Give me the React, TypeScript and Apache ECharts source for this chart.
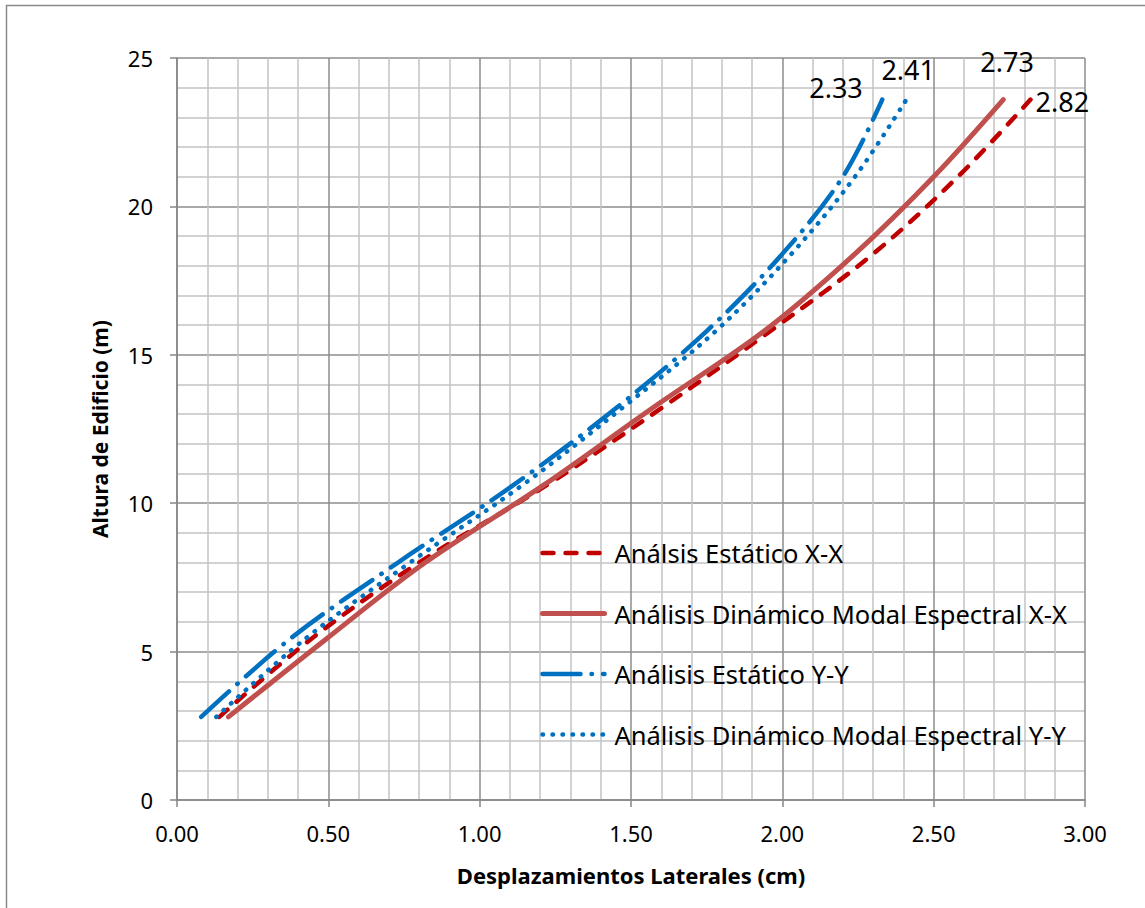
import React, { useEffect, useRef } from "react";
import * as echarts from "echarts";

const alturas = [2.8, 5.4, 8.0, 10.6, 13.2, 15.8, 18.4, 21.0, 23.6];
const estaticoXX = [0.14, 0.44, 0.8, 1.22, 1.6, 1.96, 2.3, 2.58, 2.82];
const dinamicoXX = [0.17, 0.49, 0.82, 1.21, 1.57, 1.94, 2.24, 2.5, 2.73];
const estaticoYY = [0.08, 0.37, 0.73, 1.11, 1.45, 1.75, 2.0, 2.2, 2.33];
const dinamicoYY = [0.13, 0.42, 0.77, 1.14, 1.47, 1.78, 2.03, 2.24, 2.41];

const nombres = [
  "Análsis Estático X-X",
  "Análisis Dinámico Modal Espectral X-X",
  "Análisis Estático Y-Y",
  "Análisis Dinámico Modal Espectral Y-Y",
];

const FONT = "'Noto Sans', 'Open Sans', sans-serif";

const pares = (xs: number[]) => xs.map((x, i) => [x, alturas[i]]);

const endLabel = (offset: number[]) => ({
  show: true,
  formatter: (p: any) => Number(p.value[0]).toFixed(2),
  color: "#000",
  fontSize: 27,
  fontFamily: FONT,
  distance: 5,
  offset,
});

const estilos = [
  { color: "#C00000", width: 4.5, type: [11, 12], cap: "round" },
  { color: "#C0504D", width: 5, type: "solid", cap: "round" },
  { color: "#0070C0", width: 4.5, type: [38, 11, 0.5, 11], cap: "round" },
  { color: "#0070C0", width: 4.5, type: [0.5, 9.5], cap: "round" },
];

export default function App() {
  const ref = useRef<HTMLDivElement>(null);
  useEffect(() => {
    const chart = echarts.init(ref.current!, null, { renderer: "svg" });
    const common = {
      type: "line",
      smooth: 0.35,
      symbol: "none",
      showSymbol: false,
    };
    const labelOffsets = [[0, 2], [-28, -38], [-78, -12], [-30, -30]];
    const valores = [estaticoXX, dinamicoXX, estaticoYY, dinamicoYY];
    chart.setOption({
      animation: false,
      backgroundColor: "#fff",
      textStyle: { fontFamily: FONT },
      graphic: [
        {
          type: "rect",
          shape: { x: 6.5, y: 5.5, width: 1300, height: 1000 },
          style: { fill: "none", stroke: "#8a8a8a", lineWidth: 1.5 },
          silent: true,
        },
      ],
      grid: { left: 177, right: 60, top: 58, bottom: 108 },
      xAxis: {
        type: "value",
        min: 0,
        max: 3,
        interval: 0.5,
        name: "Desplazamientos Laterales (cm)",
        nameLocation: "middle",
        nameGap: 64,
        nameTextStyle: { fontSize: 22, fontWeight: "bold", color: "#000", fontFamily: FONT },
        axisLine: { show: true, lineStyle: { color: "#868686", width: 1.5 } },
        axisTick: { show: true, length: 7, lineStyle: { color: "#868686", width: 1.5 } },
        axisLabel: {
          formatter: (v: number) => v.toFixed(2),
          fontSize: 22,
          color: "#000",
          margin: 22,
          fontFamily: FONT,
        },
        splitLine: { show: true, lineStyle: { color: "#8c8c8c", width: 1.5 } },
        minorTick: { show: false, splitNumber: 5 },
        minorSplitLine: { show: true, lineStyle: { color: "#c3c3c3", width: 1.5 } },
      },
      yAxis: {
        type: "value",
        min: 0,
        max: 25,
        interval: 5,
        name: "Altura de Edificio (m)",
        nameLocation: "middle",
        nameGap: 67,
        nameTextStyle: { fontSize: 21, fontWeight: "bold", color: "#000", fontFamily: FONT },
        axisLine: { show: true, lineStyle: { color: "#868686", width: 1.5 } },
        axisTick: { show: true, length: 7, lineStyle: { color: "#868686", width: 1.5 } },
        axisLabel: { fontSize: 22, color: "#000", margin: 24, fontFamily: FONT },
        splitLine: { show: true, lineStyle: { color: "#8c8c8c", width: 1.5 } },
        minorTick: { show: false, splitNumber: 5 },
        minorSplitLine: { show: true, lineStyle: { color: "#c3c3c3", width: 1.5 } },
      },
      legend: {
        orient: "vertical",
        left: 535,
        top: 535,
        itemWidth: 62,
        itemHeight: 14,
        itemGap: 34.5,
        selectedMode: false,
        itemStyle: { opacity: 0 },
        textStyle: { fontSize: 25.5, color: "#000", fontFamily: FONT, padding: [0, 0, 0, 5] },
        data: nombres.map((n, i) => ({ name: n, lineStyle: { ...estilos[i] } })),
      },
      series: nombres.map((n, i) => ({
        ...common,
        name: n,
        data: pares(valores[i]),
        endLabel: endLabel(labelOffsets[i]),
        lineStyle: estilos[i],
        itemStyle: { color: estilos[i].color },
      })),
    });
    return () => chart.dispose();
  }, []);
  return (
    <div
      ref={ref}
      style={{ position: "absolute", left: 0, top: 0, width: 1145, height: 908 }}
    />
  );
}
